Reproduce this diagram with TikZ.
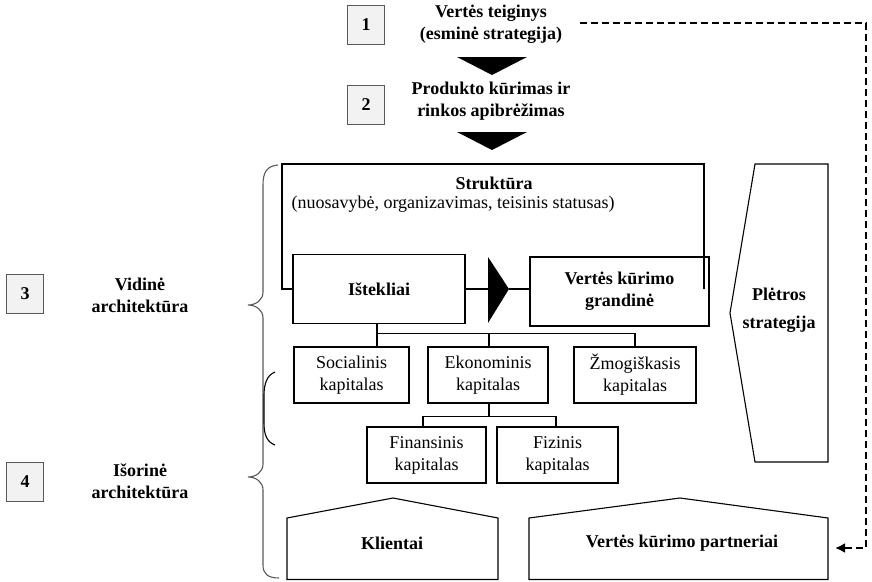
\documentclass[tikz,border=0pt]{standalone}
\usepackage{fontspec}
\setmainfont{Liberation Serif}
\usetikzlibrary{arrows.meta}
\newcommand{\dsize}{\fontsize{18}{22}\selectfont}
\tikzset{
  numbox/.style={draw=black!65, fill=gray!10, minimum width=37pt, minimum height=39pt, inner sep=0pt, font=\dsize\bfseries},
  bf/.style={align=center, inner sep=1pt, font=\dsize\bfseries},
  reg/.style={align=center, inner sep=1pt, font=\dsize},
  capbox/.style={draw, align=center, inner sep=0pt},
  dashline/.style={line width=2.6pt, dash pattern=on 7pt off 4pt, -{Latex[length=10pt,width=10pt]}},
}
\begin{document}
\begin{tikzpicture}[x=1pt,y=-1pt,line width=1.1pt]
\useasboundingbox (0,0) rectangle (872,581);

% steps 1 and 2
\node[numbox] (n1) at (366,25) {1};
\node[bf] (vt) at (491,24) {Vertės teiginys\\(esminė strategija)};
\fill (457,57) -- (527,57) -- (492,75) -- cycle;
\node[numbox] (n2) at (366,105) {2};
\node[bf] (pk) at (491,101) {Produkto kūrimas ir\\rinkos apibrėžimas};
\fill (457,132) -- (527,132) -- (492,150) -- cycle;

% left labels
\node[numbox] (n3) at (25,294) {3};
\node[bf] (vid) at (140,295) {Vidinė\\architektūra};
\node[numbox] (n4) at (25,482) {4};
\node[bf] (iso) at (140,481) {Išorinė\\architektūra};

% braces
\draw[black!65] (278,165) .. controls (267,166) and (263,172) .. (263,185) -- (263,292)
  .. controls (263,300) and (256,305) .. (248,305) .. controls (256,305) and (263,310) .. (263,318)
  -- (263,464) .. controls (263,472) and (256,477) .. (248,477) .. controls (256,477) and (263,482) .. (263,490)
  -- (263,565) .. controls (263,574) and (268,578) .. (279,578);
\draw (275,372) .. controls (267,375) and (264,384) .. (264,395) -- (264,423)
  .. controls (264,435) and (267,442) .. (275,445);

% structure
\node[bf] (str) at (494,183) {Struktūra};
\node[reg, anchor=west] (strx) at (290,204) {(nuosavybė, organizavimas, teisinis statusas)};
\node[capbox, bf, minimum width=172pt, minimum height=69pt] (ist) at (379,289) {Ištekliai};
\node[capbox, bf, minimum width=179pt, minimum height=69pt] (vk) at (619.5,291.5) {Vertės kūrimo\\grandinė};
\coordinate (sl) at (282,164);
\coordinate (sr) at (704,164);
\draw (ist.west) -| (sl) -- (sr) -- (sr |- ist.west);
\coordinate (tr) at (488,289);
\fill (tr) -- ++(0,-32) -- ++(21,32) -- ++(-21,34) -- cycle;
\draw (ist.east) -- (tr);
\draw ([xshift=21pt]tr) -- (vk.west |- tr);

% development strategy
\draw (755,164) -- (828,164) -- (828,462) -- (755,462) -- (730,313) -- cycle;
\node[bf] (ple) at (779,310) {Plėtros\\[6pt]strategija};

% capitals
\node[capbox, reg, minimum width=115pt, minimum height=56pt] (soc) at (351.5,375) {Socialinis\\kapitalas};
\node[capbox, reg, minimum width=120pt, minimum height=56pt] (eko) at (488,375) {Ekonominis\\kapitalas};
\node[capbox, reg, minimum width=122pt, minimum height=56pt] (zmo) at (635,375) {Žmogiškasis\\kapitalas};
\node[capbox, reg, minimum width=119pt, minimum height=56pt] (fin) at (426.5,455) {Finansinis\\kapitalas};
\node[capbox, reg, minimum width=121pt, minimum height=56pt] (fiz) at (557.5,455) {Fizinis\\kapitalas};

\draw ([xshift=-2pt]ist.south) -- ([xshift=-2pt]ist.south |- soc.north);
\draw ([xshift=-2pt]ist.south) ++(0,9) -| ([xshift=1pt]eko.north);
\draw ([xshift=-2pt]ist.south) ++(0,9) -| (zmo.north);
\draw ([xshift=1pt]eko.south) -- ++(0,13) coordinate (b2);
\draw ([xshift=-3.5pt]fin.north) |- (b2) -| ([xshift=-1.5pt]fiz.north);

% external architecture
\draw (287,579.5) -- (287,518) -- (393,498) -- (498,518) -- (498,579.5) -- cycle;
\node[bf] (kli) at (392,543) {Klientai};
\draw (529,579.5) -- (529,518) -- (680,498) -- (828,518) -- (828,579.5) -- cycle;
\node[bf] (par) at (682,543) {Vertės kūrimo partneriai};

% feedback
\coordinate (ds) at (580,23);
\coordinate (de) at (835,548);
\draw[dashline] (ds) -- (866,23) |- (de);

\end{tikzpicture}
\end{document}
